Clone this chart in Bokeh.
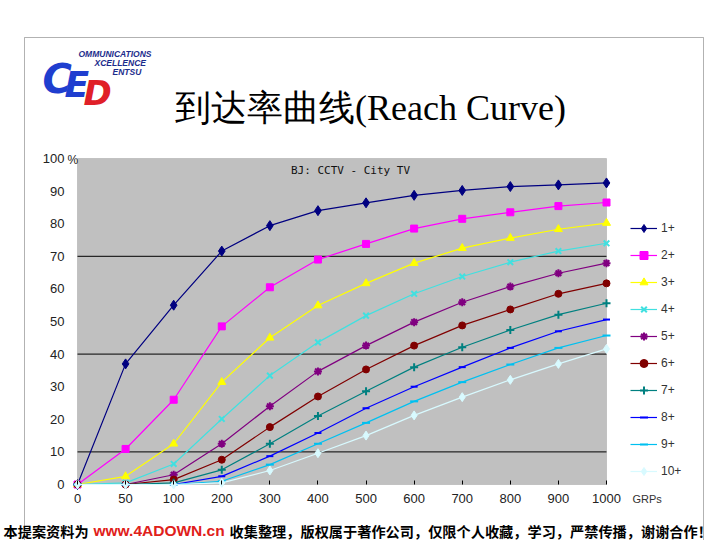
from bokeh.plotting import figure
from bokeh.models import (Range1d, FixedTicker, Label, Legend, LegendItem,
                          BoxAnnotation, LinearAxis)
from bokeh.embed import file_html
from bokeh.resources import INLINE

# ---------------- data ----------------
grps = ["0", "50", "100", "200", "300", "400", "500", "600", "700", "800", "900", "1000"]
y_ticks = [0, 10, 20, 30, 40, 50, 60, 70, 80, 90, 100]
grid_levels = [10, 40, 70]
series_names = ["1+", "2+", "3+", "4+", "5+", "6+", "7+", "8+", "9+", "10+"]

reach_1 = [0, 37, 55, 71.6, 79.4, 84, 86.4, 88.7, 90.2, 91.4, 91.9, 92.5]
reach_2 = [0, 10.9, 26, 48.5, 60.5, 69, 73.8, 78.5, 81.5, 83.5, 85.4, 86.5]
reach_3 = [0, 2.5, 12.5, 31.4, 45, 54.9, 61.7, 67.9, 72.5, 75.6, 78.3, 80.2]
reach_4 = [0, 0.5, 6.3, 20.1, 33.4, 43.6, 51.8, 58.5, 63.8, 68.2, 71.6, 74]
reach_5 = [0, 0, 3, 12.5, 24, 34.7, 42.6, 49.8, 55.9, 60.7, 64.8, 67.9]
reach_6 = [0, 0, 1.5, 7.6, 17.6, 27, 35.3, 42.6, 48.8, 53.7, 58.5, 61.7]
reach_7 = [0, 0, 0.5, 4.5, 12.5, 21, 28.6, 36, 42.1, 47.4, 52.1, 55.6]
reach_8 = [0, 0, 0, 2.5, 8.7, 15.8, 23.4, 30, 36, 41.9, 47, 50.6]
reach_9 = [0, 0, 0, 1, 6.1, 12.5, 18.9, 25.5, 31.4, 36.8, 41.9, 45.7]
reach_10 = [0, 0, 0, 0.5, 4.3, 9.6, 15, 21.2, 26.8, 32.1, 37, 41.6]
all_reach = [reach_1, reach_2, reach_3, reach_4, reach_5,
             reach_6, reach_7, reach_8, reach_9, reach_10]

title_text = "到达率曲线(Reach Curve)"
subtitle_text = "BJ: CCTV - City TV"
x_unit_text = "GRPs"
footer_a = "本提案资料为"
footer_url = "www.4ADOWN.cn"
footer_b = "收集整理，版权属于著作公司，仅限个人收藏，学习，严禁传播，谢谢合作！"

# ---------------- styles ----------------
colors = ["#000080", "#FF00FF", "#FFFF00", "#40E0E0", "#800080",
          "#800000", "#008080", "#0000FF", "#00C0F0", "#D8FAFF"]
markers = ["diamond", "square", "triangle", "x", "asterisk",
           "circle", "cross", "dash", "dash", "diamond"]
msizes = [10, 7, 8, 8, 8, 7, 8, 7, 8, 9]

# ---------------- layout (canvas pixels) ----------------
W, H = 720, 540
FRAME_L, FRAME_R, FRAME_T, FRAME_B = 77, 606, 158, 484
n = len(grps) - 1
dx = (FRAME_R - FRAME_L) / n
dy = (FRAME_B - FRAME_T) / 100.0
x_range = Range1d(-FRAME_L / dx, n + (W - FRAME_R) / dx)
y_range = Range1d(-(H - FRAME_B) / dy, 100 + FRAME_T / dy)


def sx(px):
    return px


def sy(py):
    return H - py


p = figure(width=W, height=H, x_range=x_range, y_range=y_range,
           output_backend="svg", toolbar_location=None,
           x_axis_location=None, y_axis_location=None,
           min_border=0, min_border_left=0, min_border_right=0,
           min_border_top=0, min_border_bottom=0)
p.background_fill_color = "white"
p.border_fill_color = "white"
p.outline_line_color = None
p.xgrid.visible = False
p.ygrid.visible = False

# plot area
p.add_layout(BoxAnnotation(left=0, right=n, bottom=0, top=100, level="image",
                           fill_color="#C0C0C0", fill_alpha=1,
                           line_color="#808080", line_width=1))

# horizontal grid lines limited to the plot area
p.segment(x0=[0] * len(grid_levels), x1=[n] * len(grid_levels),
          y0=grid_levels, y1=grid_levels, line_color="black", line_width=1)

xi = list(range(len(grps)))
xaxis = LinearAxis(fixed_location=0, ticker=FixedTicker(ticks=xi),
                   major_label_overrides={i: g for i, g in enumerate(grps)},
                   axis_line_color=None, major_tick_in=4, major_tick_out=0,
                   major_tick_line_color="black", minor_tick_line_color=None,
                   major_label_standoff=9)
yaxis = LinearAxis(fixed_location=0, ticker=FixedTicker(ticks=y_ticks),
                   axis_line_color=None, major_tick_line_color=None,
                   minor_tick_line_color=None, major_label_standoff=7)
for ax in (xaxis, yaxis):
    ax.major_label_text_font = "Liberation Sans"
    ax.major_label_text_font_size = "13px"
    ax.major_label_text_color = "#222222"
p.add_layout(xaxis, "below")
p.add_layout(yaxis, "left")

items = []
for name, vals, c, m, s in zip(series_names, all_reach, colors, markers, msizes):
    lr = p.line(xi, vals, line_color=c, line_width=1.2)
    sr = p.scatter(xi, vals, marker=m, size=s, fill_color=c, line_color=c,
                   line_width=2 if m in ("dash", "x", "asterisk", "cross") else 1)
    items.append(LegendItem(label=name, renderers=[lr, sr]))

legend = Legend(items=items, location=(sx(630), sy(481)), orientation="vertical",
                glyph_width=27, glyph_height=20, label_height=20, spacing=7,
                padding=0, margin=0, border_line_color=None,
                background_fill_alpha=0, label_standoff=4,
                label_text_font="Liberation Sans", label_text_font_size="12px",
                label_text_color="#333333")
p.add_layout(legend)

# outer slide frame
p.add_layout(BoxAnnotation(left=sx(24), right=sx(703), top=sy(37), bottom=sy(560),
                           left_units="screen", right_units="screen",
                           top_units="screen", bottom_units="screen",
                           fill_alpha=0, line_color="black", line_width=1))

labels = [
    dict(text="%", x=sx(67), y=sy(159), text_align="left", text_font="Liberation Sans",
         text_font_size="12px", text_color="#222222"),
    dict(text=subtitle_text, x=sx(350), y=sy(170), text_align="center",
         text_font="DejaVu Sans Mono", text_font_size="11px", text_color="#111111"),
    dict(text=x_unit_text, x=sx(632), y=sy(498), text_align="left",
         text_font="Liberation Sans", text_font_size="11px", text_color="#333333"),
    dict(text=title_text, x=sx(370), y=sy(107), text_align="center",
         text_font="Liberation Serif", text_font_size="36px", text_color="black"),
    dict(text=footer_a, x=sx(3), y=sy(530), text_align="left",
         text_font="Noto Sans CJK SC", text_font_size="14.2px", text_font_style="bold",
         text_color="black"),
    dict(text=footer_url, x=sx(93), y=sy(530), text_align="left",
         text_font="Liberation Sans", text_font_size="15.5px", text_font_style="bold",
         text_color="#E0201A"),
    dict(text=footer_b, x=sx(229), y=sy(530), text_align="left",
         text_font="Noto Sans CJK SC", text_font_size="14.2px", text_font_style="bold",
         text_color="black"),
    # logo
    dict(text="C", x=sx(42), y=sy(78), text_align="left", text_font="DejaVu Sans",
         text_font_size="40px", text_font_style="bold italic", text_color="#1F3ECF",
         text_baseline="alphabetic"),
    dict(text="E", x=sx(64), y=sy(84), text_align="left", text_font="DejaVu Sans",
         text_font_size="36px", text_font_style="bold italic", text_color="#1F3ECF",
         text_baseline="alphabetic"),
    dict(text="D", x=sx(83), y=sy(92), text_align="left", text_font="DejaVu Sans",
         text_font_size="34px", text_font_style="bold italic", text_color="#E02028",
         text_baseline="alphabetic"),
    dict(text="OMMUNICATIONS", x=sx(78), y=sy(53), text_align="left",
         text_font="Liberation Sans", text_font_size="8.5px",
         text_font_style="bold italic", text_color="#1C2C8C"),
    dict(text="XCELLENCE", x=sx(94), y=sy(62), text_align="left",
         text_font="Liberation Sans", text_font_size="8.5px",
         text_font_style="bold italic", text_color="#1C2C8C"),
    dict(text="ENTSU", x=sx(112), y=sy(71), text_align="left",
         text_font="Liberation Sans", text_font_size="8.5px",
         text_font_style="bold italic", text_color="#1C2C8C"),
]
for d in labels:
    d.setdefault("text_baseline", "middle")
    p.add_layout(Label(x_units="screen", y_units="screen", **d))

open("out.html", "w").write(file_html(p, INLINE))
